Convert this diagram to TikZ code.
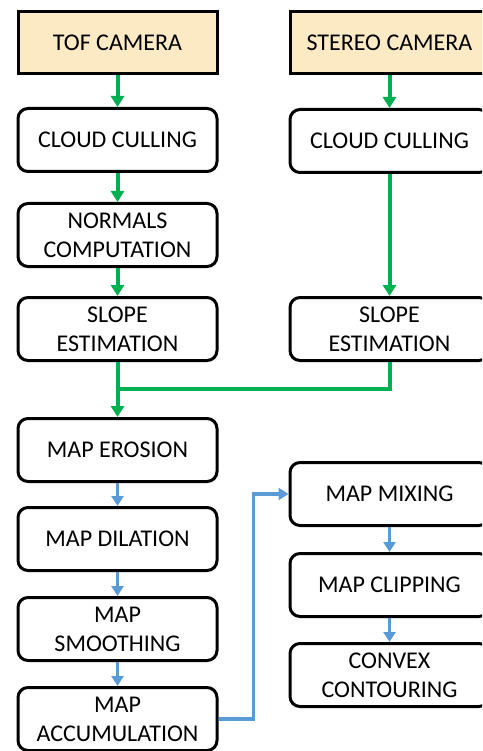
\documentclass[tikz,border=0pt]{standalone}
\usepackage{fontspec}
\setmainfont{Carlito}
\usepackage{xcolor}
\usepackage{tikz}
\usetikzlibrary{arrows.meta,positioning}

\definecolor{camfill}{RGB}{252,234,197}
\definecolor{flowgreen}{RGB}{0,176,80}
\definecolor{flowblue}{RGB}{91,155,213}

\begin{document}
\begin{tikzpicture}[x=1pt,y=1pt]
        \tikzstyle{stage} = [draw, line width=3pt, rounded corners=10pt, minimum width=199pt, minimum height=63pt, inner sep=2pt, align=center, font=\fontsize{24}{29}\selectfont]
        \tikzstyle{camera} = [stage, rounded corners=0pt, fill=camfill, minimum height=62pt]
        \tikzstyle{gflow} = [draw=flowgreen, line width=4pt, -{Triangle[width=13pt,length=11pt]}]
        \tikzstyle{gline} = [draw=flowgreen, line width=4pt]
        \tikzstyle{bflow} = [draw=flowblue, line width=3.5pt, -{Triangle[width=12pt,length=10pt]}]
        \clip (0,0) rectangle (482,-751);
        % sensors
        \node[camera] (tof) at (117.5,-42.5) {TOF CAMERA};
        \node[camera, right = 70pt of tof] (stereo) {STEREO CAMERA};
        % tof branch
        \node[stage, below = 32pt of tof] (tofcull) {CLOUD CULLING};
        \node[stage, below = 29pt of tofcull] (normals) {NORMALS\\COMPUTATION};
        \node[stage, below = 28pt of normals] (tofslope) {SLOPE\\ESTIMATION};
        % stereo branch
        \node[stage, below = 33pt of stereo] (stcull) {CLOUD CULLING};
        \node[stage, below = 122pt of stcull] (stslope) {SLOPE\\ESTIMATION};
        % map chain
        \node[stage, below = 55pt of tofslope] (erosion) {MAP EROSION};
        \node[stage, below = 23pt of erosion] (dilation) {MAP DILATION};
        \node[stage, below = 24pt of dilation] (smoothing) {MAP\\SMOOTHING};
        \node[stage, below = 24pt of smoothing] (accum) {MAP\\ACCUMULATION};
        \node[stage, below = 99pt of stslope] (mixing) {MAP MIXING};
        \node[stage, below = 25pt of mixing] (clipping) {MAP CLIPPING};
        \node[stage, below = 24pt of clipping] (convex) {CONVEX\\CONTOURING};
        \coordinate[below = 27pt of tofslope] (join);

        \draw[gflow] (tof) -- (tofcull);
        \draw[gflow] (tofcull) -- (normals);
        \draw[gflow] (normals) -- (tofslope);
        \draw[gflow] (stereo) -- (stcull);
        \draw[gflow] (stcull) -- (stslope);
        \draw[gflow] (tofslope) -- (erosion);
        \draw[gline] (stslope.south) |- (join);
        \draw[bflow] (erosion) -- (dilation);
        \draw[bflow] (dilation) -- (smoothing);
        \draw[bflow] (smoothing) -- (accum);
        \draw[bflow] (accum.east) -- ++(35,0) |- (mixing.west);
        \draw[bflow] (mixing) -- (clipping);
        \draw[bflow] (clipping) -- (convex);
\end{tikzpicture}
\end{document}
